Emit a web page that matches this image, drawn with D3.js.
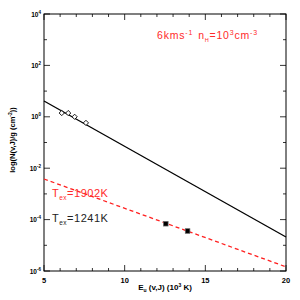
<!DOCTYPE html>
<html>
<head>
<meta charset="utf-8">
<script src="https://cdn.jsdelivr.net/npm/d3@7"></script>
<style>
  body { margin: 0; background: #fff; }
  svg { font-family: "Liberation Sans", Arial, sans-serif; }
</style>
</head>
<body>
<svg width="300" height="300"></svg>
<script>
// observed level populations (open diamonds) and the two hot levels (filled squares)
var obsE = [6.1, 6.5, 6.9, 7.6];
var obsN = [1.4, 1.4, 1.0, 0.58];
var hotE = [12.55, 13.9];
var hotN = [6.9e-5, 3.6e-5];

// fitted lines: E at ends, N at ends
var fitBlackE = [5, 20];
var fitBlackN = [4.1, 2.1e-5];
var fitRedE = [5, 20];
var fitRedN = [3.8e-3, 1.45e-6];

var xTicks = [5, 10, 15, 20];
var yTicks = [1e-6, 1e-4, 1e-2, 1e0, 1e2, 1e4];
var yTickExp = ["-6", "-4", "-2", "0", "2", "4"];

var pL = 44, pR = 286, pT = 14, pB = 271;

var x = d3.scaleLinear().domain([5, 20]).range([pL, pR]);
var y = d3.scaleLog().domain([1e-6, 1e4]).range([pB, pT]);

var svg = d3.select("svg");
var g = svg.append("g");

// frame
g.append("rect")
    .attr("x", pL).attr("y", pT)
    .attr("width", pR - pL).attr("height", pB - pT)
    .attr("fill", "none").attr("stroke", "#000").attr("stroke-width", 1);

// x ticks (inward, bottom & top)
d3.range(5, 20.01, 1).forEach(function (v) {
    var len = (v % 5 === 0) ? 6 : 3;
    g.append("line").attr("x1", x(v)).attr("x2", x(v))
        .attr("y1", pB).attr("y2", pB - len)
        .attr("stroke", "#000").attr("stroke-width", 0.8);
    g.append("line").attr("x1", x(v)).attr("x2", x(v))
        .attr("y1", pT).attr("y2", pT + len)
        .attr("stroke", "#000").attr("stroke-width", 0.8);
});

// y ticks (every decade, majors every 2)
d3.range(-6, 4.01, 1).forEach(function (e) {
    var len = (e % 2 === 0) ? 6 : 3;
    var yy = y(Math.pow(10, e));
    g.append("line").attr("x1", pL).attr("x2", pL + len)
        .attr("y1", yy).attr("y2", yy)
        .attr("stroke", "#000").attr("stroke-width", 0.8);
    g.append("line").attr("x1", pR).attr("x2", pR - len)
        .attr("y1", yy).attr("y2", yy)
        .attr("stroke", "#000").attr("stroke-width", 0.8);
});

// x tick labels
g.selectAll(".xl").data(xTicks).enter().append("text")
    .attr("x", function (d) { return x(d); })
    .attr("y", pB + 12)
    .attr("text-anchor", "middle")
    .attr("font-size", 7.5).attr("font-weight", "bold")
    .text(function (d) { return d; });

// y tick labels
yTicks.forEach(function (v, i) {
    var t = g.append("text")
        .attr("x", pL - 3).attr("y", y(v) + 2.5)
        .attr("text-anchor", "end")
        .attr("font-size", 6.5).attr("font-weight", "bold");
    t.append("tspan").text("10");
    t.append("tspan").attr("dy", -3).attr("font-size", 4.5).text(yTickExp[i]);
});

// axis titles
var xt = g.append("text")
    .attr("x", 165).attr("y", 290)
    .attr("text-anchor", "middle")
    .attr("font-size", 8).attr("font-weight", "bold");
xt.append("tspan").text("E");
xt.append("tspan").attr("dy", 1.5).attr("font-size", 5).text("u");
xt.append("tspan").attr("dy", -1.5).text(" (v,J) (10");
xt.append("tspan").attr("dy", -3).attr("font-size", 5).text("3");
xt.append("tspan").attr("dy", 3).text(" K)");

var yt = g.append("text")
    .attr("transform", "translate(15,140) rotate(-90)")
    .attr("text-anchor", "middle")
    .attr("font-size", 7.5).attr("font-weight", "bold");
yt.append("tspan").text("log(N(v,J)/g (cm");
yt.append("tspan").attr("dy", -3).attr("font-size", 5).text("-2");
yt.append("tspan").attr("dy", 3).text("))");

// fit lines
var line = d3.line()
    .x(function (d) { return x(d[0]); })
    .y(function (d) { return y(d[1]); });

g.append("path")
    .attr("d", line(d3.zip(fitBlackE, fitBlackN)))
    .attr("fill", "none").attr("stroke", "#000").attr("stroke-width", 1.3);

g.append("path")
    .attr("d", line(d3.zip(fitRedE, fitRedN)))
    .attr("fill", "none").attr("stroke", "#ff2020").attr("stroke-width", 1.3)
    .attr("stroke-dasharray", "4,3");

// open diamonds
g.selectAll(".obs").data(d3.zip(obsE, obsN)).enter().append("path")
    .attr("transform", function (d) { return "translate(" + x(d[0]) + "," + y(d[1]) + ")"; })
    .attr("d", "M0,-2.6L2.6,0L0,2.6L-2.6,0Z")
    .attr("fill", "#fff").attr("stroke", "#000").attr("stroke-width", 0.9);

// filled squares
g.selectAll(".hot").data(d3.zip(hotE, hotN)).enter().append("rect")
    .attr("x", function (d) { return x(d[0]) - 2.3; })
    .attr("y", function (d) { return y(d[1]) - 2.3; })
    .attr("width", 4.6).attr("height", 4.6)
    .attr("fill", "#000").attr("stroke", "#666").attr("stroke-width", 0.7);

// annotations
var ann = g.append("text")
    .attr("x", 157).attr("y", 39)
    .attr("font-size", 10.5).attr("fill", "#ff2a2a")
    .attr("letter-spacing", 0.8);
ann.append("tspan").text("6kms");
ann.append("tspan").attr("dy", -4.5).attr("font-size", 7).text("-1");
ann.append("tspan").attr("dy", 4.5).attr("dx", 5).text("n");
ann.append("tspan").attr("dy", 2.5).attr("font-size", 5.5).text("H");
ann.append("tspan").attr("dy", -2.5).text("=10");
ann.append("tspan").attr("dy", -4.5).attr("font-size", 7).text("3");
ann.append("tspan").attr("dy", 4.5).text("cm");
ann.append("tspan").attr("dy", -4.5).attr("font-size", 7).text("-3");

function tex(xp, yp, color, val) {
    var t = g.append("text").attr("x", xp).attr("y", yp)
        .attr("font-size", 11).attr("fill", color)
        .attr("letter-spacing", 0.5);
    t.append("tspan").text("T");
    t.append("tspan").attr("dy", 2.5).attr("font-size", 6.5).text("ex");
    t.append("tspan").attr("dy", -2.5).text("=" + val + "K");
}
tex(52, 197, "#ff2a2a", "1902");
tex(52, 222, "#222", "1241");
</script>
</body>
</html>
